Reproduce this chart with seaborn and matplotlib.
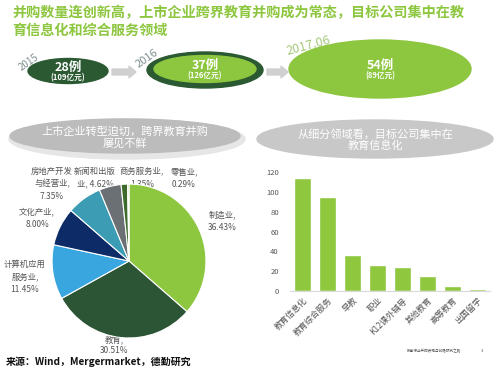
import seaborn as sns
import matplotlib.pyplot as plt
from matplotlib.patches import Ellipse, FancyArrow

# data
years = ["2015", "2016", "2017.06"]
deal_counts = ["28例", "37例", "54例"]
deal_amounts = ["(109亿元)", "(126亿元)", "(89亿元)"]

pie_labels = ["制造业,\n36.43%", "教育,\n30.51%", "计算机应用\n服务业,\n11.45%", "文化产业,\n8.00%",
              "房地产开发\n与经营业,\n7.35%", "新闻和出版\n业, 4.62%", "商务服务业,\n1.35%", "零售业,\n0.29%"]
pie_values = [36.43, 30.51, 11.45, 8.00, 7.35, 4.62, 1.35, 0.29]

bar_cats = ["教育信息化", "教育综合服务", "早教", "职业", "K12课外辅导", "其他教育", "高等教育", "出国留学"]
bar_values = [114, 95, 36, 26, 24, 15, 5, 2]

sns.set_style("white")
plt.rcParams['font.family'] = ['Noto Sans CJK SC', 'DejaVu Sans']

green = "#8dc63f"
dark = "#2b5a32"
fig = plt.figure(figsize=(5, 3.7), dpi=100)

# overlay for the infographic parts, pixel coordinates
bg = fig.add_axes([0, 0, 1, 1], zorder=0)
bg.set_xlim(0, 500)
bg.set_ylim(370, 0)
bg.axis("off")

bg.text(12, 13, "并购数量连创新高，上市企业跨界教育并购成为常态，目标公司集中在教",
        color=green, fontsize=10.2, fontweight="bold", va="center")
bg.text(12, 31, "育信息化和综合服务领域", color=green, fontsize=10.2, fontweight="bold", va="center")

# top row of ellipses
bg.add_patch(Ellipse((68, 71), 80, 25, color=dark))
bg.add_patch(Ellipse((205, 70), 116, 36, color=dark))
bg.add_patch(Ellipse((205, 69), 102, 27, color=green))
bg.add_patch(Ellipse((380, 69), 182, 58, color=green))
centers = [(68, 71), (205, 69), (380, 69)]
for (cx, cy), c, a in zip(centers, deal_counts, deal_amounts):
    bg.text(cx, cy - 4, c, color="white", fontsize=9, fontweight="bold", ha="center", va="center")
    bg.text(cx, cy + 7, a, color="white", fontsize=5.5, fontweight="bold", ha="center", va="center")
bg.text(29, 62, years[0], color="#7f8f8f", fontsize=7, rotation=35, ha="center", va="center")
bg.text(147, 58, years[1], color="#7f8f8f", fontsize=8, rotation=35, ha="center", va="center")
bg.text(308, 46, years[2], color="#a5c87a", fontsize=9, rotation=15, ha="center", va="center")
for x0, x1 in ((112, 136), (267, 288)):
    bg.add_patch(FancyArrow(x0, 72, x1 - x0, 0, width=6, head_width=12, head_length=7,
                            color="#d0d0d0", length_includes_head=True))

# grey banners
bg.add_patch(Ellipse((127, 139), 236, 40, color="#e6e6e6"))
bg.add_patch(Ellipse((125, 136), 230, 34, color="#bcbcbc"))
bg.add_patch(Ellipse((375, 139), 236, 38, color="#c8c8c8"))
bg.text(125, 137, "上市企业转型迫切，跨界教育并购\n屡见不鲜", color="white", fontsize=8,
        ha="center", va="center", linespacing=1.1)
bg.text(375, 140, "从细分领域看，目标公司集中在\n教育信息化", color="white", fontsize=8,
        ha="center", va="center", linespacing=1.1)

# pie
pie_colors = [green, "#2c5535", "#3aa6df", "#0c2b67", "#3b9cb3", "#6b7075", "#3d6b2c", "#9fc36a"]
ax_pie = fig.add_axes([0.104, 0.0865, 0.308, 0.416], zorder=1)
ax_pie.pie(pie_values, colors=pie_colors, startangle=90, counterclock=False,
           wedgeprops=dict(edgecolor="white", linewidth=0.8))
ax_pie.set_xlim(-1, 1)
ax_pie.set_ylim(-1, 1)
ax_pie.set_facecolor("none")

label_pos = [(222, 221), (114, 345), (25, 277), (37, 218), (52, 184), (95, 178), (142, 178), (184, 178)]
for (lx, ly), lab in zip(label_pos, pie_labels):
    bg.text(lx, ly, lab, color="#555555", fontsize=6, ha="center", va="center",
            linespacing=1.25 if lab.startswith("教育") else 1.5)

bg.text(6, 362, "来源：Wind，Mergermarket，德勤研究", color="#111111", fontsize=7.2,
        fontweight="bold", va="center")
bg.text(434, 351, "教育行业并购表现与前瞻研究之路", color="#555555", fontsize=2.6, ha="center", va="center")
bg.text(482, 351, "3", color="#555555", fontsize=3, ha="center", va="center")

# bars
ax_bar = fig.add_axes([0.58, 0.2135, 0.40, 0.3216], zorder=1)
sns.barplot(x=bar_cats, y=bar_values, color="#8fc73e", width=0.68, saturation=1, ax=ax_bar)
ax_bar.set_facecolor("none")
ax_bar.set_ylim(0, 120)
ax_bar.set_yticks(range(0, 121, 20))
ax_bar.tick_params(axis="y", labelsize=5.5, colors="#555555", length=0, pad=8)
ax_bar.tick_params(axis="x", labelsize=6, colors="#555555", length=0)
plt.setp(ax_bar.get_xticklabels(), rotation=45, ha="right", rotation_mode="anchor")
sns.despine(ax=ax_bar, left=True)
ax_bar.spines["bottom"].set_color("#d9d9d9")

fig.savefig("out.png", dpi=100)
